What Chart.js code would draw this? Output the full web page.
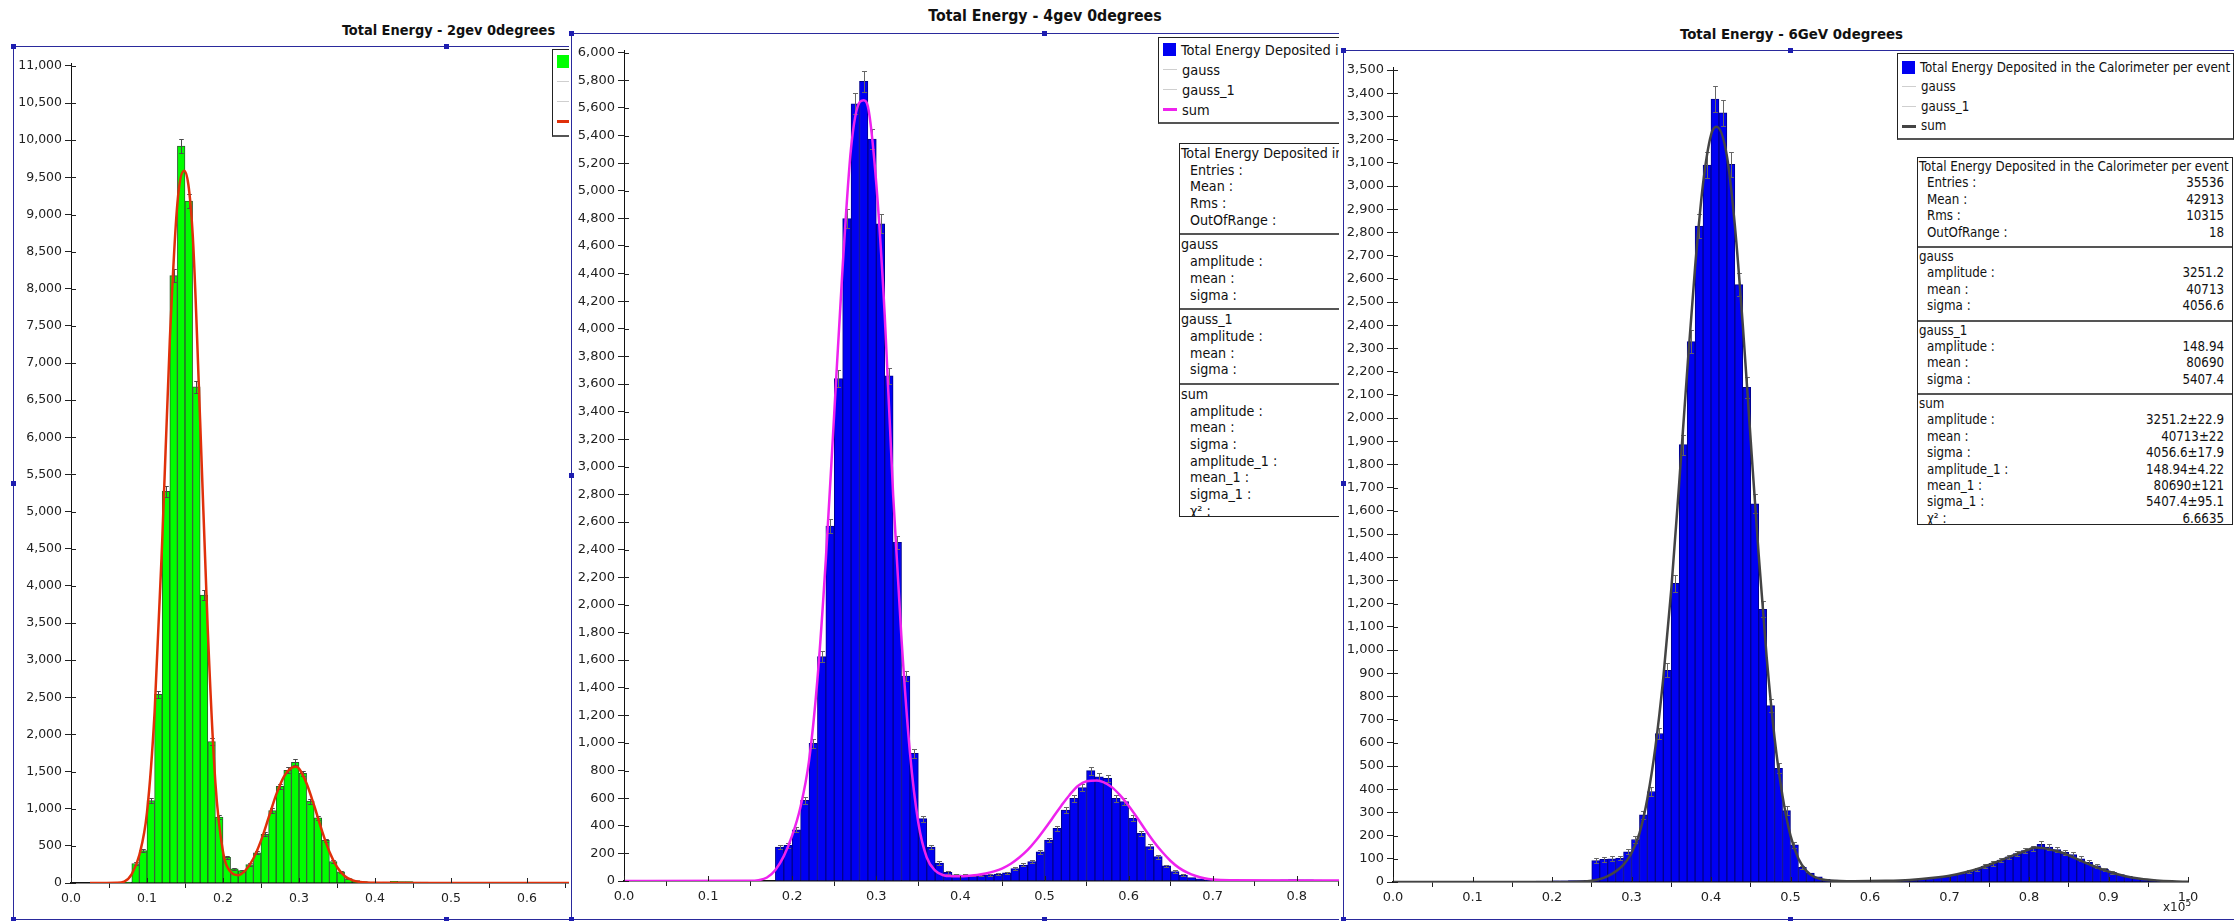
<!DOCTYPE html>
<html>
<head>
<meta charset="utf-8">
<title>Total Energy</title>
<script src="https://cdn.jsdelivr.net/npm/chart.js@4.4.1/dist/chart.umd.min.js"></script>
<style>
  html, body { margin: 0; padding: 0; background: #fff; }
  body { position: relative; width: 2234px; height: 921px; overflow: hidden;
         font-family: "DejaVu Sans Condensed", "DejaVu Sans", sans-serif; color: #111; }
  .wrap { position: absolute; top: 0; height: 921px; overflow: hidden; background: #fff; }
  .frame { position: absolute; box-sizing: border-box; border-left: 1px solid #2a2a9c;
           border-top: 1px solid #2a2a9c; border-bottom: 1px solid #2a2a9c; }
  .title { position: absolute; font-weight: bold; white-space: nowrap; transform: translateX(-50%); color: #111; }
  canvas { position: absolute; }
  .handle { position: absolute; width: 5px; height: 5px; background: #1d1db0; }
  .legend { position: absolute; box-sizing: border-box; border: 1px solid #222; border-bottom: 2px solid #555;
            background: #fff; white-space: nowrap; overflow: hidden; }
  .legend .item { display: flex; align-items: center; padding-left: 4px; }
  .legend .sw { flex: none; margin-right: 5px; }
  .stats { position: absolute; box-sizing: border-box; border: 1px solid #222; background: #fff;
           overflow: hidden; white-space: nowrap; }
  .stats .sec { border-bottom: 2px solid #555; padding: 1px 0 5px 0; }
  .stats .row { display: flex; justify-content: space-between; }
  .exp { position: absolute; font-family: "DejaVu Sans", sans-serif; font-size: 12px; line-height: 12px; color: #222; }
  .exp sup { font-size: 9px; }
</style>
</head>
<body>
<script>
// histogram bins are 0.01 wide and start at 0
const binWidth = 0.01;

const counts2gev = [0, 0, 0, 4, 5, 6, 8, 14, 262, 435,
  1110, 2540, 5273, 8177, 9923, 9182, 6680, 3877, 1905, 888,
  344, 192, 167, 248, 405, 656, 975, 1303, 1518, 1625,
  1475, 1102, 877, 573, 289, 150, 58, 32, 18, 12,
  10, 14, 22, 18, 20, 12, 14, 6, 4, 3,
  3, 2, 2, 2, 2, 2, 1, 1, 2, 1, 1, 1, 1, 1, 1];

const counts4gev = [0, 0, 0, 0, 0, 0, 0, 0, 0, 0,
  0, 0, 0, 0, 0, 0, 0, 0, 245, 258,
  371, 585, 997, 1625, 2571, 3639, 4798, 5630, 5792, 5375,
  4760, 3659, 2453, 1485, 925, 452, 245, 130, 62, 44,
  42, 40, 41, 45, 50, 60, 90, 116, 140, 212,
  297, 382, 514, 599, 676, 799, 755, 744, 599, 575,
  454, 345, 249, 176, 109, 68, 43, 25, 15, 8,
  5, 4, 3, 3, 4, 3, 5, 6, 8, 10, 9, 8, 6, 5, 4];

const counts6gev = [0, 0, 0, 0, 0, 0, 0, 0, 0, 0,
  0, 0, 0, 0, 0, 0, 0, 3, 4, 4,
  5, 5, 6, 6, 7, 92, 98, 100, 103, 130,
  183, 290, 390, 640, 912, 1287, 1885, 2329, 2827, 3090,
  3375, 3315, 3093, 2575, 2132, 1630, 1175, 760, 490, 308,
  160, 63, 38, 22, 12, 8, 6, 5, 5, 4,
  4, 4, 5, 5, 6, 8, 12, 15, 20, 22,
  30, 36, 45, 55, 68, 80, 95, 108, 122, 135,
  145, 162, 150, 140, 128, 118, 100, 85, 70, 55,
  42, 32, 24, 17, 12, 9, 7, 4, 2, 1];

// fitted curves ("sum")
const fit2gevX = [0.025, 0.06, 0.07, 0.08, 0.09, 0.10, 0.11, 0.12, 0.13, 0.14,
  0.149, 0.16, 0.17, 0.18, 0.19, 0.20, 0.21, 0.22, 0.23, 0.24,
  0.25, 0.26, 0.27, 0.28, 0.29, 0.296, 0.30, 0.31, 0.32, 0.33,
  0.34, 0.35, 0.36, 0.37, 0.38, 0.40, 0.45, 1.0];
const fit2gevY = [0, 4, 20, 120, 380, 950, 2300, 4600, 7300, 9150,
  9590, 8750, 6200, 3400, 1350, 420, 150, 105, 175, 330,
  570, 880, 1190, 1430, 1550, 1565, 1540, 1340, 1040, 710,
  420, 215, 95, 38, 14, 2, 0, 0];

const fit4gevX = [0, 0.15, 0.16, 0.17, 0.18, 0.19, 0.20, 0.21, 0.22, 0.23,
  0.24, 0.25, 0.26, 0.27, 0.28, 0.285, 0.29, 0.30, 0.31, 0.32,
  0.33, 0.34, 0.35, 0.36, 0.37, 0.38, 0.39, 0.40, 0.41, 0.42,
  0.43, 0.44, 0.45, 0.46, 0.47, 0.48, 0.49, 0.50, 0.51, 0.52,
  0.53, 0.54, 0.55, 0.563, 0.57, 0.58, 0.59, 0.60, 0.61, 0.62,
  0.63, 0.64, 0.65, 0.66, 0.67, 0.68, 0.69, 0.70, 0.72, 0.80, 1.0];
const fit4gevY = [0, 1, 6, 25, 80, 180, 330, 540, 870, 1460,
  2330, 3390, 4450, 5310, 5640, 5655, 5610, 5050, 4100, 2800,
  1750, 930, 420, 170, 75, 42, 35, 34, 38, 44,
  55, 70, 92, 125, 170, 225, 295, 375, 460, 545,
  625, 690, 722, 728, 716, 680, 620, 545, 460, 370,
  285, 210, 145, 95, 60, 36, 20, 11, 5, 3, 3];

const fit6gevX = [0, 0.22, 0.25, 0.27, 0.29, 0.30, 0.31, 0.32, 0.33, 0.34,
  0.35, 0.36, 0.37, 0.38, 0.39, 0.40, 0.407, 0.42, 0.43, 0.44,
  0.45, 0.46, 0.47, 0.48, 0.49, 0.50, 0.51, 0.52, 0.53, 0.55,
  0.58, 0.62, 0.65, 0.68, 0.70, 0.72, 0.74, 0.76, 0.78, 0.80,
  0.807, 0.82, 0.84, 0.86, 0.88, 0.90, 0.92, 0.94, 0.96, 0.98, 1.0];
const fit6gevY = [0, 0, 5, 25, 75, 125, 210, 360, 580, 880,
  1260, 1720, 2200, 2650, 3010, 3220, 3255, 3130, 2830, 2400,
  1900, 1410, 970, 620, 370, 200, 100, 48, 22, 6,
  3, 5, 9, 18, 27, 42, 62, 88, 115, 140,
  149, 145, 128, 100, 70, 45, 26, 14, 7, 3, 1];

const titles = ["Total Energy - 2gev 0degrees", "Total Energy - 4gev 0degrees", "Total Energy - 6GeV 0degrees"];
const legendLabels = ["Total Energy Deposited in the Calorimeter per event", "gauss", "gauss_1", "sum"];
const statsHeads = ["Total Energy Deposited in the Calorimeter per event", "gauss", "gauss_1", "sum"];
const statsLabels = [
  ["Entries :", "Mean :", "Rms :", "OutOfRange :"],
  ["amplitude :", "mean :", "sigma :"],
  ["amplitude :", "mean :", "sigma :"],
  ["amplitude :", "mean :", "sigma :", "amplitude_1 :", "mean_1 :", "sigma_1 :", "χ² :"]
];
const stats6gevValues = [
  ["35536", "42913", "10315", "18"],
  ["3251.2", "40713", "4056.6"],
  ["148.94", "80690", "5407.4"],
  ["3251.2±22.9", "40713±22", "4056.6±17.9", "148.94±4.22", "80690±121", "5407.4±95.1", "6.6635"]
];

const COND = '"DejaVu Sans Condensed"';
const mctx = document.createElement("canvas").getContext("2d");
function fitSize(text, weight, target) {
  mctx.font = weight + " 20px " + COND;
  return 20 * target / mctx.measureText(text).width;
}

// error bars (sqrt N) on top of the histogram bars
const errorBars = {
  id: "errorBars",
  afterDatasetDraw(chart, args, opts) {
    if (args.meta.type !== "bar") return;
    const ctx = chart.ctx;
    const ys = chart.scales.y;
    const data = chart.data.datasets[args.index].data;
    ctx.save();
    ctx.strokeStyle = opts.color;
    ctx.lineWidth = 1;
    ctx.beginPath();
    args.meta.data.forEach((bar, i) => {
      const v = data[i].y;
      if (v < 40) return;
      const e = Math.sqrt(v);
      const yt = Math.round(ys.getPixelForValue(v + e)) + 0.5;
      const yb = Math.round(ys.getPixelForValue(v - e)) + 0.5;
      const x = Math.round(bar.x) + 0.5;
      const hw = Math.max(2, bar.width * 0.3);
      ctx.moveTo(x, yt); ctx.lineTo(x, yb);
      ctx.moveTo(x - hw, yt); ctx.lineTo(x + hw, yt);
      ctx.moveTo(x - hw, yb); ctx.lineTo(x + hw, yb);
    });
    ctx.stroke();
    ctx.restore();
  }
};

// tick marks that cross the axis lines
const crossTicks = {
  id: "crossTicks",
  afterDraw(chart) {
    const { ctx, chartArea: a, scales: { x, y } } = chart;
    ctx.save();
    ctx.strokeStyle = "#222";
    ctx.lineWidth = 1;
    ctx.beginPath();
    y.ticks.forEach(t => {
      const py = Math.round(y.getPixelForValue(t.value)) + 0.5;
      ctx.moveTo(a.left, py); ctx.lineTo(a.left + 5, py);
    });
    x.ticks.forEach(t => {
      const px = Math.round(x.getPixelForValue(t.value)) + 0.5;
      ctx.moveTo(px, a.bottom); ctx.lineTo(px, a.bottom - 5);
    });
    ctx.stroke();
    ctx.restore();
  }
};

const panels = [
  {
    wrap: [0, 569], frame: [13, 46, 880, 874], canvas: [14, 47, 866, 872],
    yW: 57, xH: 36, padTop: 16, padRight: 49, yMax: 11040, yStep: 500, tickFont: 12.5,
    title: titles[0], titleCx: 448.5, titleBase: 35, titleW: 213.5,
    counts: counts2gev, fitX: fit2gevX, fitY: fit2gevY,
    barColor: "#00ff00", barEdge: "#2e5a2e", fitColor: "#e0300a", errColor: "#4a4a4a",
    legend: { x: 552, y: 49, w: 330, h: 88, pitch: 20, padTop: 1.5 },
    handles: [[13, 46], [446, 46], [13, 483], [13, 919], [446, 919]]
  },
  {
    wrap: [569, 770], frame: [571, 33, 946, 887], canvas: [572, 34, 945, 885],
    yW: 52, xH: 38, padTop: 16, padRight: 52, yMax: 6019.6, yStep: 200, tickFont: 13,
    title: titles[1], titleCx: 1045, titleBase: 21.7, titleW: 233.5,
    counts: counts4gev, fitX: fit4gevX, fitY: fit4gevY,
    barColor: "#0000f2", barEdge: "#00008a", fitColor: "#ee22ee", errColor: "#666",
    legend: { x: 1158, y: 37, w: 330, h: 87, pitch: 20, padTop: 1.5 },
    stats: { x: 1179, y: 143, w: 318, h: 374, pitch: 16.7, indent: 10, values: null },
    handles: [[571, 33], [1044, 33], [571, 475], [571, 919], [1044, 919]]
  },
  {
    wrap: [1339, 895], frame: [1343, 50, 900, 870], canvas: [1344, 51, 890, 868],
    yW: 49, xH: 37, padTop: 16, padRight: 46, yMax: 3513, yStep: 100, tickFont: 13,
    title: titles[2], titleCx: 1791.5, titleBase: 39.3, titleW: 223,
    counts: counts6gev, fitX: fit6gevX, fitY: fit6gevY,
    barColor: "#0000f2", barEdge: "#00008a", fitColor: "#444444", errColor: "#666",
    legend: { x: 1897, y: 53, w: 337, h: 87, pitch: 19.6, padTop: 3.5 },
    stats: { x: 1917, y: 157, w: 316, h: 368, pitch: 16.4, indent: 9, values: stats6gevValues },
    handles: [[1343, 50], [1790, 50], [1343, 483], [1343, 919], [1790, 919]]
  }
];

const legendFont4 = fitSize("Total Energy Deposited", "normal", 150);
const legendFont6 = fitSize(legendLabels[0], "normal", 310.5);
const statsFont6 = fitSize(statsHeads[0], "normal", 310);
panels[0].textSize = legendFont4;
panels[1].textSize = legendFont4;
panels[2].textSize = legendFont6;
panels[1].statsSize = legendFont4 * 0.98;
panels[2].statsSize = statsFont6;

function el(tag, cls, parent, css) {
  const e = document.createElement(tag);
  if (cls) e.className = cls;
  if (css) Object.assign(e.style, css);
  if (parent) parent.appendChild(e);
  return e;
}

function buildLegend(p, wrap, ox) {
  const L = p.legend;
  const box = el("div", "legend", wrap, {
    left: (L.x - ox) + "px", top: L.y + "px", width: L.w + "px", height: L.h + "px",
    paddingTop: L.padTop + "px", fontSize: p.textSize + "px"
  });
  legendLabels.forEach((lab, i) => {
    const it = el("div", "item", box, { height: L.pitch + "px", lineHeight: L.pitch + "px" });
    if (i === 0) el("span", "sw", it, { width: "13px", height: "13px", background: p.barColor });
    else if (i === 3) el("span", "sw", it, { width: "14px", height: "3px", background: p.fitColor });
    else el("span", "sw", it, { width: "14px", height: "1px", background: "#cfcfcf" });
    el("span", null, it).textContent = lab;
  });
}

function buildStats(p, wrap, ox) {
  const S = p.stats;
  const box = el("div", "stats", wrap, {
    left: (S.x - ox) + "px", top: S.y + "px", width: S.w + "px", height: S.h + "px",
    fontSize: p.statsSize + "px", lineHeight: S.pitch + "px"
  });
  statsHeads.forEach((head, si) => {
    const sec = el("div", "sec", box);
    const h = el("div", null, sec, { paddingLeft: "1px", height: S.pitch + "px" });
    h.textContent = head;
    statsLabels[si].forEach((lab, ri) => {
      const row = el("div", "row", sec, { height: S.pitch + "px", paddingLeft: S.indent + "px", paddingRight: "8px" });
      el("span", null, row).textContent = lab;
      el("span", null, row).textContent = S.values ? S.values[si][ri] : "";
    });
  });
}

function makeChart(p, canvas) {
  const bars = p.counts.map((c, i) => ({ x: (i + 0.5) * binWidth, y: c }));
  const fit = p.fitX.map((x, i) => ({ x: x, y: p.fitY[i] }));
  const tickFont = { family: "DejaVu Sans", size: p.tickFont };
  const yTicks = [];
  for (let k = 0; k * p.yStep <= p.yMax; k++) yTicks.push({ value: k * p.yStep });
  const xTicks = [];
  for (let k = 0; k <= 10; k++) xTicks.push({ value: k / 10 });
  return new Chart(canvas.getContext("2d"), {
    type: "bar",
    data: {
      datasets: [
        {
          type: "line", label: "sum", data: fit, borderColor: p.fitColor, borderWidth: 2.5,
          pointRadius: 0, fill: false, cubicInterpolationMode: "monotone", order: 1
        },
        {
          type: "bar", label: legendLabels[0], data: bars, backgroundColor: p.barColor,
          borderColor: p.barEdge, borderWidth: 1, barPercentage: 1, categoryPercentage: 1, order: 2
        }
      ]
    },
    options: {
      responsive: false,
      animation: false,
      devicePixelRatio: 1,
      layout: { autoPadding: false, padding: { left: 0, top: p.padTop, right: p.padRight, bottom: 0 } },
      plugins: {
        legend: { display: false },
        tooltip: { enabled: false },
        errorBars: { color: p.errColor }
      },
      scales: {
        x: {
          type: "linear", min: 0, max: 1, offset: false,
          afterBuildTicks: s => { s.ticks = xTicks; },
          afterFit: s => { s.height = p.xH; },
          grid: { display: true, drawOnChartArea: false, drawTicks: true, tickLength: 5, color: "#222" },
          border: { display: true, color: "#111", width: 1.5 },
          ticks: {
            autoSkip: false, maxRotation: 0, padding: 3,
            color: "#222", font: tickFont, callback: v => v.toFixed(1)
          }
        },
        y: {
          type: "linear", min: 0, max: p.yMax,
          afterBuildTicks: s => { s.ticks = yTicks; },
          afterFit: s => { s.width = p.yW; },
          grid: { display: true, drawOnChartArea: false, drawTicks: true, tickLength: 6, color: "#222" },
          border: { display: true, color: "#111", width: 1 },
          ticks: {
            autoSkip: false, padding: 3,
            color: "#222", font: tickFont, callback: v => v.toLocaleString("en-US")
          }
        }
      }
    },
    plugins: [errorBars, crossTicks]
  });
}

panels.forEach(p => {
  const ox = p.wrap[0];
  const wrap = el("div", "wrap", document.body, { left: ox + "px", width: p.wrap[1] + "px" });
  el("div", "frame", wrap, {
    left: (p.frame[0] - ox) + "px", top: p.frame[1] + "px",
    width: p.frame[2] + "px", height: p.frame[3] + "px"
  });
  const ts = fitSize(p.title, "bold", p.titleW);
  const t = el("div", "title", wrap, {
    left: (p.titleCx - ox) + "px", top: (p.titleBase - 0.846 * ts) + "px",
    fontSize: ts + "px", lineHeight: ts + "px"
  });
  t.textContent = p.title;

  const cv = el("canvas", null, wrap, {
    left: (p.canvas[0] - ox) + "px", top: p.canvas[1] + "px",
    width: p.canvas[2] + "px", height: p.canvas[3] + "px"
  });
  cv.width = p.canvas[2];
  cv.height = p.canvas[3];
  makeChart(p, cv);

  buildLegend(p, wrap, ox);
  if (p.stats) buildStats(p, wrap, ox);
  p.handles.forEach(h => {
    el("div", "handle", wrap, { left: (h[0] - 2 - ox) + "px", top: (h[1] - 2) + "px" });
  });
  if (p === panels[2]) {
    const ex = el("div", "exp", wrap, { left: (2163 - ox) + "px", top: "897px" });
    ex.innerHTML = "x10<sup>5</sup>";
  }
});
</script>
</body>
</html>
